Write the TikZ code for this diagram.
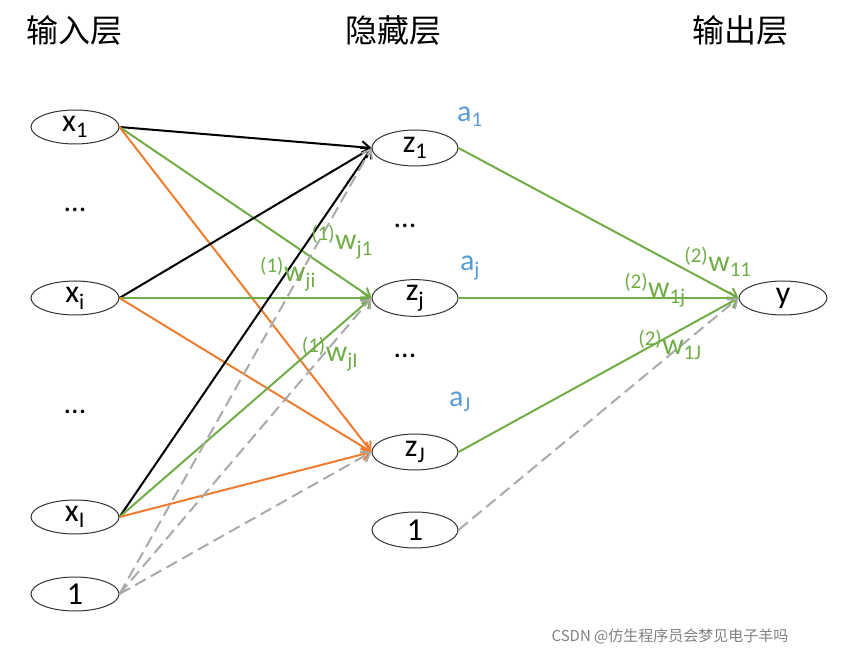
\documentclass[tikz,border=0pt]{standalone}
\usepackage{fontspec}
\setmainfont{Carlito}
\newfontfamily\cjk{Noto Sans CJK SC}
\usetikzlibrary{arrows.meta,shapes.geometric}
\definecolor{gr}{RGB}{112,173,71}
\definecolor{org}{RGB}{237,125,49}
\definecolor{bl}{RGB}{91,155,213}
\definecolor{gy}{RGB}{170,170,170}
\begin{document}
\begin{tikzpicture}[x=1pt,y=-1pt,
 neu/.style={draw=black!80,line width=1pt,ellipse,minimum width=88pt,minimum height=34pt,inner sep=0pt,font=\fontsize{32}{32}\selectfont},
 conn/.style={line width=2pt,-{Straight Barb[length=8pt,width=12pt]}},
 bk/.style={conn,black},
 gn/.style={conn,gr},
 og/.style={conn,org},
 dsh/.style={conn,gy,dash pattern=on 12pt off 6pt},
 wl/.style={gr,font=\fontsize{30}{30}\selectfont,inner sep=0pt},
 al/.style={bl,font=\fontsize{30}{30}\selectfont,inner sep=0pt},
 tt/.style={font=\cjk\fontsize{32}{32}\selectfont},
 dt/.style={font=\fontsize{30}{30}\selectfont}]
\useasboundingbox (0,0) rectangle (841,655);
\node[tt] (t1) at (75,30) {输入层};
\node[tt] (t2) at (393,30) {隐藏层};
\node[tt] (t3) at (740,30) {输出层};
\node[neu] (x1) at (75,127) {x\textsubscript{1}};
\node[neu] (xi) at (75,298) {x\textsubscript{i}};
\node[neu] (xI) at (75,517) {x\textsubscript{I}};
\node[neu] (b1) at (75,594) {1};
\node[neu,minimum width=86pt,minimum height=36pt] (z1) at (415,148) {z\textsubscript{1}};
\node[neu,minimum width=86pt,minimum height=36pt] (zj) at (415,298) {z\textsubscript{j}};
\node[neu,minimum width=86pt,minimum height=36pt] (zJ) at (415,452) {z\textsubscript{J}};
\node[neu,minimum width=86pt,minimum height=36pt] (b2) at (415,530) {1};
\node[neu] (y) at (783,298) {y};
\node[dt] (d1) at (75,210) {...};
\node[dt] (d2) at (75,412) {...};
\node[dt] (d3) at (405,226) {...};
\node[dt] (d4) at (405,356) {...};
\foreach \s in {x1,xi,xI} {
 \draw[bk] (\s.east) -- (z1.west);
 \draw[gn] (\s.east) -- (zj.west);
 \draw[og] (\s.east) -- (zJ.west);
}
\foreach \t in {z1,zj,zJ} {
 \draw[dsh] (b1.east) -- (\t.west);
 \draw[gn] (\t.east) -- (y.west);
}
\draw[dsh] (b2.east) -- (y.west);
\node[al] (a1) at (470,117) {a\textsubscript{1}};
\node[al] (aj) at (470,268) {a\textsubscript{j}};
\node[al] (aJ) at (460,402) {a\textsubscript{J}};
\node[wl] (w1) at (342,242) {\textsuperscript{(1)}w\textsubscript{j1}};
\node[wl] (w2) at (288,274) {\textsuperscript{(1)}w\textsubscript{ji}};
\node[wl] (w3) at (330,354) {\textsuperscript{(1)}w\textsubscript{jI}};
\node[wl] (w4) at (718,262) {\textsuperscript{(2)}w\textsubscript{11}};
\node[wl] (w5) at (655,290) {\textsuperscript{(2)}w\textsubscript{1j}};
\node[wl] (w6) at (670,345) {\textsuperscript{(2)}w\textsubscript{1J}};
\node[gray,font=\cjk\fontsize{15}{15}\selectfont] (wm) at (670,636) {CSDN @仿生程序员会梦见电子羊吗};
\end{tikzpicture}
\end{document}
